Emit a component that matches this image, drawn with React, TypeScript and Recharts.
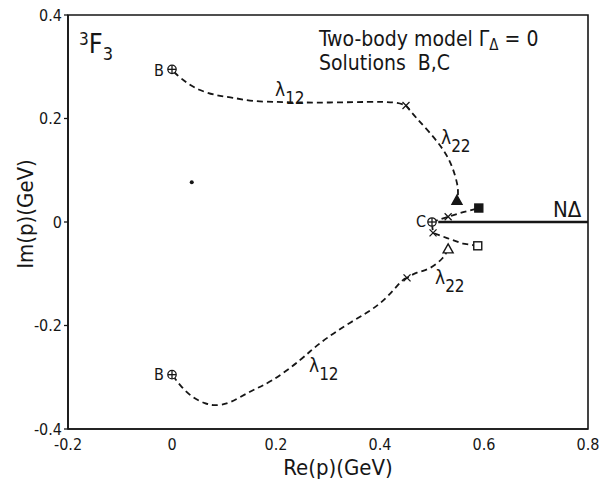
import React from 'react';
import {
  ComposedChart, Line, Scatter, XAxis, YAxis, ReferenceArea,
} from 'recharts';

// pole trajectories in the complex momentum plane (Re p, Im p), GeV
const upperLambda12: [number, number][] = [
  [0.004, 0.29], [0.01, 0.284], [0.029, 0.269], [0.054, 0.255], [0.086, 0.245],
  [0.117, 0.24], [0.156, 0.234], [0.202, 0.232], [0.246, 0.231], [0.31, 0.231],
  [0.375, 0.232], [0.425, 0.231], [0.45, 0.225],
];
const upperLambda22: [number, number][] = [
  [0.45, 0.225], [0.471, 0.2], [0.496, 0.172], [0.521, 0.14], [0.538, 0.108],
  [0.548, 0.075], [0.55, 0.055], [0.549, 0.046],
];
const upperC: [number, number][] = [[0.5, 0], [0.531, 0.01], [0.56, 0.019], [0.59, 0.027]];
const lowerC: [number, number][] = [[0.5, -0.004], [0.502, -0.021], [0.529, -0.031], [0.56, -0.042], [0.588, -0.046]];
const lowerLambda22: [number, number][] = [
  [0.531, -0.052], [0.52, -0.07], [0.496, -0.089], [0.471, -0.098], [0.452, -0.108],
];
const lowerLambda12: [number, number][] = [
  [0.452, -0.108], [0.438, -0.118], [0.4, -0.157], [0.342, -0.195], [0.285, -0.234],
  [0.246, -0.267], [0.194, -0.305], [0.15, -0.328], [0.112, -0.348], [0.083, -0.354],
  [0.063, -0.35], [0.04, -0.338], [0.019, -0.319], [0.004, -0.3],
];
const thresholdLine: [number, number][] = [[0.512, 0], [0.8, 0]];

const poleB_C: [number, number][] = [[0, 0.295], [0, -0.295], [0.5, 0]];
const filledTriangle: [number, number][] = [[0.548, 0.042]];
const openTriangle: [number, number][] = [[0.531, -0.052]];
const filledSquare: [number, number][] = [[0.59, 0.027]];
const openSquare: [number, number][] = [[0.588, -0.046]];
const crossings: [number, number][] = [[0.45, 0.225], [0.452, -0.108], [0.531, 0.01], [0.502, -0.021]];
const strayDot: [number, number][] = [[0.038, 0.077]];

const xMajor = [-0.2, 0, 0.2, 0.4, 0.6, 0.8];
const xMinor = [-0.1, 0, 0.1, 0.2, 0.3, 0.4, 0.5, 0.6, 0.7];
const yMajor = [-0.4, -0.2, 0, 0.2, 0.4];
const yMinor = [-0.3, -0.1, 0.1, 0.3];

const pts = (a: [number, number][]) => a.map(([x, y]) => ({ x, y }));
const fmt = (v: number) => (v === 0 ? '0' : String(v));

const INK = '#161616';
const FONT = "'DejaVu Sans Condensed', 'DejaVu Sans', sans-serif";

const CirclePlus = ({ cx, cy }: any) => (
  <g stroke={INK} strokeWidth={1.3} fill="white">
    <circle cx={cx} cy={cy} r={4.2} />
    <line x1={cx - 4} x2={cx + 4} y1={cy} y2={cy} />
    <line x1={cx} x2={cx} y1={cy - 4} y2={cy + 4} />
  </g>
);
const Tri = (filled: boolean) => ({ cx, cy }: any) => (
  <path d={`M${cx},${cy - 5} L${cx + 5},${cy + 4} L${cx - 5},${cy + 4} Z`}
    fill={filled ? INK : 'white'} stroke={INK} strokeWidth={1.4} />
);
const Sq = (filled: boolean) => ({ cx, cy }: any) => (
  <rect x={cx - 4} y={cy - 4} width={8} height={8}
    fill={filled ? INK : 'white'} stroke={INK} strokeWidth={1.4} />
);
const Cross = ({ cx, cy }: any) => (
  <g stroke={INK} strokeWidth={1.3}>
    <line x1={cx - 3.5} x2={cx + 3.5} y1={cy - 3.5} y2={cy + 3.5} />
    <line x1={cx - 3.5} x2={cx + 3.5} y1={cy + 3.5} y2={cy - 3.5} />
  </g>
);
const Dot = ({ cx, cy }: any) => <circle cx={cx} cy={cy} r={2} fill={INK} />;

const Lambda = ({ x, y, sub }: { x: number; y: number; sub: string }) => (
  <text x={x} y={y} fontSize={19} fill={INK}>
    λ<tspan dy={8} fontSize={17}>{sub}</tspan>
  </text>
);

const dashed = { stroke: INK, strokeWidth: 1.8, strokeDasharray: '6 4', dot: false, isAnimationActive: false, type: 'natural' as const };

export default function App() {
  return (
    <div style={{ position: 'absolute', left: 0, top: 0, width: 605, height: 482, background: 'white', fontFamily: FONT }}>
      <ComposedChart width={605} height={482} margin={{ top: 15, right: 17, bottom: 0, left: 0 }}>
        <XAxis dataKey="x" type="number" domain={[-0.2, 0.8]} ticks={xMajor} tickFormatter={fmt}
          allowDataOverflow height={53} tickLine={false} tickSize={4} tickMargin={6}
          axisLine={{ stroke: INK, strokeWidth: 1.6 }} tick={{ fill: INK, fontSize: 16, fontFamily: FONT }} />
        <XAxis xAxisId="minor" dataKey="x" type="number" domain={[-0.2, 0.8]} ticks={xMinor} mirror
          tick={false} axisLine={false} tickSize={5} tickLine={{ stroke: INK, strokeWidth: 1.3 }} />
        <YAxis dataKey="y" type="number" domain={[-0.4, 0.4]} ticks={yMajor} tickFormatter={fmt}
          allowDataOverflow width={68} tickSize={4} tickMargin={2}
          tickLine={{ stroke: INK, strokeWidth: 1.3 }}
          axisLine={{ stroke: INK, strokeWidth: 1.6 }} tick={{ fill: INK, fontSize: 16, fontFamily: FONT }} />
        <YAxis yAxisId="minor" dataKey="y" type="number" domain={[-0.4, 0.4]} ticks={yMinor} mirror
          tick={false} axisLine={false} tickSize={5} tickLine={{ stroke: INK, strokeWidth: 1.3 }} />
        <ReferenceArea x1={-0.2} x2={0.8} y1={-0.4} y2={0.4} fill="none" stroke={INK} strokeWidth={1.6} ifOverflow="visible" />

        <Line data={pts(upperLambda12)} dataKey="y" {...dashed} />
        <Line data={pts(upperLambda22)} dataKey="y" {...dashed} />
        <Line data={pts(upperC)} dataKey="y" {...dashed} type="linear" />
        <Line data={pts(lowerC)} dataKey="y" {...dashed} type="linear" />
        <Line data={pts(lowerLambda22)} dataKey="y" {...dashed} />
        <Line data={pts(lowerLambda12)} dataKey="y" {...dashed} />
        <Line data={pts(thresholdLine)} dataKey="y" stroke={INK} strokeWidth={2.4} dot={false} isAnimationActive={false} type="linear" />

        <Scatter data={pts(crossings)} dataKey="y" shape={Cross} isAnimationActive={false} />
        <Scatter data={pts(poleB_C)} dataKey="y" shape={CirclePlus} isAnimationActive={false} />
        <Scatter data={pts(filledTriangle)} dataKey="y" shape={Tri(true)} isAnimationActive={false} />
        <Scatter data={pts(openTriangle)} dataKey="y" shape={Tri(false)} isAnimationActive={false} />
        <Scatter data={pts(filledSquare)} dataKey="y" shape={Sq(true)} isAnimationActive={false} />
        <Scatter data={pts(openSquare)} dataKey="y" shape={Sq(false)} isAnimationActive={false} />
        <Scatter data={pts(strayDot)} dataKey="y" shape={Dot} isAnimationActive={false} />
      </ComposedChart>

      <svg width={605} height={482} style={{ position: 'absolute', left: 0, top: 0, pointerEvents: 'none' }}
        fontFamily={FONT}>
        <text x={79} y={53} fill={INK} fontSize={27}>
          <tspan fontSize={17} dy={-8}>3</tspan><tspan dy={8}>F</tspan><tspan fontSize={18} dy={7}>3</tspan>
        </text>
        <text x={319} y={46} fill={INK} fontSize={21}>
          Two-body model Γ<tspan fontSize={15} dy={4}>Δ</tspan><tspan dy={-4}> = 0</tspan>
        </text>
        <text x={319} y={70} fill={INK} fontSize={21} xmlSpace="preserve">Solutions  B,C</text>
        <text x={154} y={76} fill={INK} fontSize={16}>B</text>
        <text x={154} y={380} fill={INK} fontSize={16}>B</text>
        <text x={416} y={227} fill={INK} fontSize={16}>C</text>
        <text x={553} y={217} fill={INK} fontSize={22}>NΔ</text>
        <Lambda x={275} y={96} sub="12" />
        <Lambda x={441} y={144} sub="22" />
        <Lambda x={435} y={284} sub="22" />
        <Lambda x={309} y={372} sub="12" />
        <text x={338} y={475} fill={INK} fontSize={22} textAnchor="middle">Re(p)(GeV)</text>
        <text transform="translate(33,214) rotate(-90)" fill={INK} fontSize={22} textAnchor="middle">Im(p)(GeV)</text>
      </svg>
    </div>
  );
}
